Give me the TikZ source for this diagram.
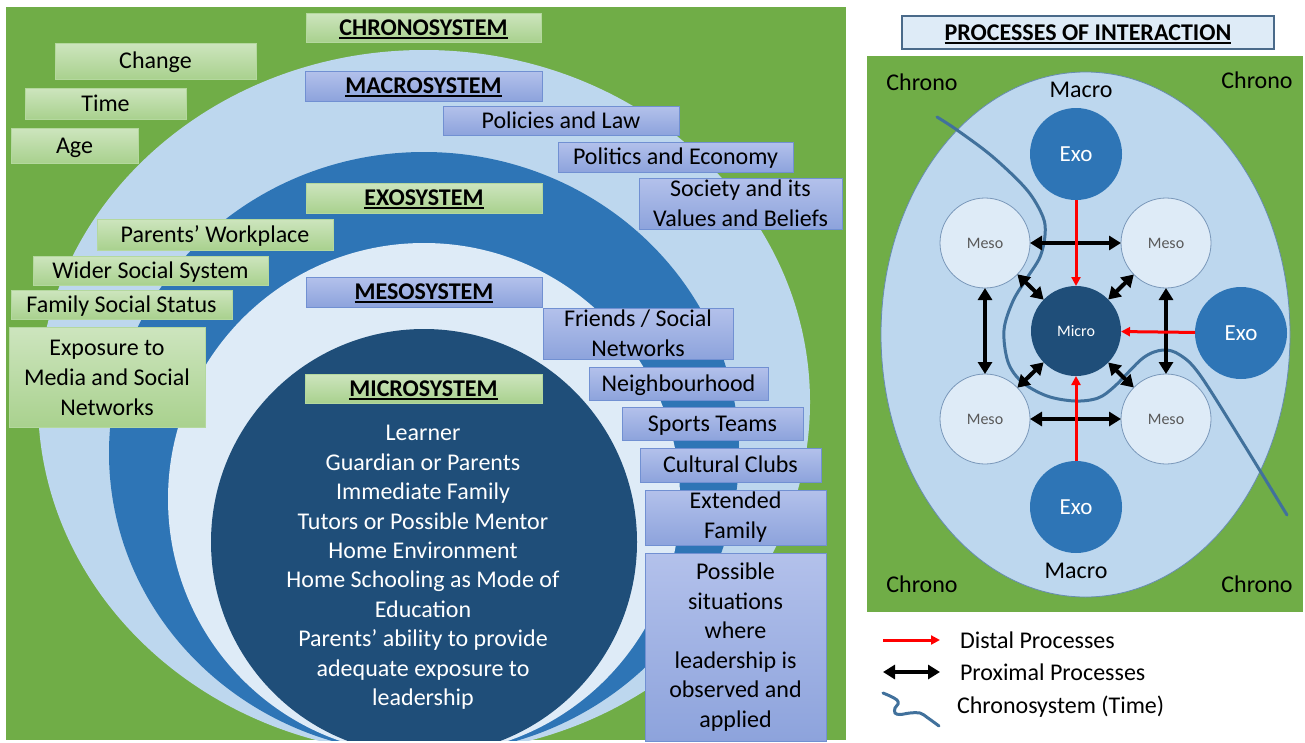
\documentclass[tikz,border=0pt]{standalone}
\usepackage{fontspec}
\setmainfont{Carlito}
\usetikzlibrary{arrows.meta,shapes.geometric}

\definecolor{bggreen}{HTML}{70AD47}
\definecolor{macrob}{HTML}{BDD7EE}
\definecolor{exob}{HTML}{2E75B6}
\definecolor{mesob}{HTML}{DEEBF7}
\definecolor{microb}{HTML}{1F4E79}
\definecolor{gtop}{HTML}{CDE5BE}
\definecolor{gbot}{HTML}{A9D18E}
\definecolor{gline}{HTML}{B4D89E}
\definecolor{btop}{HTML}{B3C1EB}
\definecolor{bbot}{HTML}{8DA3DC}
\definecolor{bline}{HTML}{7190D2}
\definecolor{chronoc}{HTML}{41719C}
\definecolor{mesotxt}{HTML}{595959}
\definecolor{mesoline}{HTML}{7A98BA}
\definecolor{titleline}{HTML}{4A6A8A}
\definecolor{arrred}{HTML}{FF0000}

\newcommand\hdul[1]{\setbox0\hbox{\bfseries #1}\rlap{\rule[-3.5pt]{\wd0}{1.8pt}}\box0}

\tikzset{
  lab/.style={font=\fontsize{24}{30}\selectfont, align=center, inner sep=0pt, outer sep=0pt},
  one/.style={text height=17pt, text depth=1.5pt},
  gbox/.style={lab, draw=gline, line width=1pt, top color=gtop, bottom color=gbot},
  bbox/.style={lab, draw=bline, line width=1pt, top color=btop, bottom color=bbot},
  exoc/.style={circle, fill=exob, minimum size=92pt, inner sep=0pt, outer sep=0pt, text=white, font=\fontsize{23}{26}\selectfont},
  microc/.style={circle, fill=microb, minimum size=90pt, inner sep=0pt, outer sep=0pt, text=white, font=\fontsize{16}{18}\selectfont},
  mesoc/.style={circle, fill=mesob, draw=mesoline, line width=0.8pt, minimum size=90pt, inner sep=0pt, outer sep=0pt, text=mesotxt, font=\fontsize{16}{18}\selectfont},
  redarr/.style={draw=arrred, line width=3pt, -{Triangle[length=9pt,width=9pt]}},
  blkarr/.style={draw=black, line width=4pt, {Triangle[length=12pt,width=14pt]}-{Triangle[length=12pt,width=14pt]}},
  chronoline/.style={draw=chronoc, line width=3pt, line cap=round},
  plain/.style={font=\fontsize{24}{30}\selectfont, inner sep=0pt, outer sep=0pt},
}

\begin{document}
\begin{tikzpicture}[x=1pt,y=-1pt]
\useasboundingbox (0,0) rectangle (1305,742);
\fill[white] (0,0) rectangle (1305,742);

% ---------------- left panel ----------------
\fill[bggreen] (6,7) rectangle (846,740);
\begin{scope}
  \clip (6,7) rectangle (846,740);
  \fill[macrob] (424,402) ellipse [x radius=386pt, y radius=352pt];
  \fill[exob]   (424,453) ellipse [x radius=315pt, y radius=301pt];
  \fill[mesob]  (424,499) circle [radius=256pt];
  \fill[microb] (424,542) circle [radius=213pt];
\end{scope}

% green boxes
\node[gbox, one, minimum width=235pt, minimum height=29pt] (chrono) at (423.5,27.5) {\hdul{CHRONOSYSTEM}};
\node[gbox, one, minimum width=201pt, minimum height=36pt] (change) at (155.5,61) {Change};
\node[gbox, one, minimum width=161pt, minimum height=31pt] (time) at (105.5,103.5) {Time};
\node[gbox, one, minimum width=127pt, minimum height=35pt] (age) at (74.5,145.5) {Age};
\node[gbox, one, minimum width=236pt, minimum height=30pt] (exosys) at (424,198) {\hdul{EXOSYSTEM}};
\node[gbox, one, minimum width=236pt, minimum height=31pt] (work) at (215,234.5) {Parents’ Workplace};
\node[gbox, one, minimum width=235pt, minimum height=29pt] (wider) at (150.5,270.5) {Wider Social System};
\node[gbox, one, minimum width=221pt, minimum height=29pt] (status) at (121.5,304.5) {Family Social Status};
\node[gbox, minimum width=196pt, minimum height=100pt] (media) at (107,377.5) {Exposure to\\Media and Social\\Networks};
\node[gbox, one, minimum width=237pt, minimum height=29pt] (microsys) at (423.5,388.5) {\hdul{MICROSYSTEM}};

% blue boxes
\node[bbox, one, minimum width=237pt, minimum height=30pt] (macrosys) at (423.5,86) {\hdul{MACROSYSTEM}};
\node[bbox, one, minimum width=236pt, minimum height=29pt] (policies) at (561,120.5) {Policies and Law};
\node[bbox, one, minimum width=235pt, minimum height=30pt] (politics) at (675.5,157) {Politics and Economy};
\node[bbox, minimum width=203pt, minimum height=51pt] (society) at (740.5,203.5) {Society and its\\Values and Beliefs};
\node[bbox, one, minimum width=236pt, minimum height=30pt] (mesosys) at (424,292) {\hdul{MESOSYSTEM}};
\node[bbox, minimum width=190pt, minimum height=51pt] (friends) at (638,333.5) {Friends / Social\\Networks};
\node[bbox, one, minimum width=179pt, minimum height=33pt] (neigh) at (678.5,383.5) {Neighbourhood};
\node[bbox, one, minimum width=181pt, minimum height=33pt] (sports) at (712.5,423.5) {Sports Teams};
\node[bbox, one, minimum width=181pt, minimum height=34pt] (clubs) at (730.5,465) {Cultural Clubs};
\node[bbox, minimum width=181pt, minimum height=55pt] (extended) at (735.5,517.5) {Extended\\Family};
\node[bbox, minimum width=181pt, minimum height=188pt, font=\fontsize{24}{29.6}\selectfont] (possible) at (735.5,647) {Possible\\situations\\where\\leadership is\\observed and\\applied};

% microsystem text
\node[lab, text=white, font=\fontsize{24}{29.4}\selectfont] (microtext) at (423,567.5) {Learner\\Guardian or Parents\\Immediate Family\\Tutors or Possible Mentor\\Home Environment\\Home Schooling as Mode of\\Education\\Parents’ ability to provide\\adequate exposure to\\leadership};

% ---------------- right panel ----------------
\node[lab, one, draw=titleline, line width=1.2pt, fill=mesob, minimum width=372pt, minimum height=33pt] (title) at (1088,32.5) {\hdul{PROCESSES OF INTERACTION}};
\fill[bggreen] (867,56) rectangle (1303,612);
\filldraw[fill=macrob, draw=chronoc!80, line width=0.8pt] (1085.5,334.5) ellipse [x radius=204.5pt, y radius=262.5pt];

\node[plain] (chTL) at (922,82) {Chrono};
\node[plain] (chTR) at (1257,80) {Chrono};
\node[plain] (chBL) at (922,584) {Chrono};
\node[plain] (chBR) at (1257,584) {Chrono};
\node[plain] (macT) at (1081,90) {Macro};
\node[plain] (macB) at (1076,571) {Macro};

% time curve
\draw[chronoline] plot[smooth, tension=0.55] coordinates {(937,117) (957,130) (993,157) (1027,190) (1043,217) (1045,235) (1040,257) (1027,278) (1013,301) (1004,330) (1008,362) (1022,382) (1047,396) (1075,401) (1098,398) (1115,386) (1143,358) (1163,350) (1180,355) (1200,375) (1243,443) (1287,515)};

\node[exoc] (exoT) at (1076,154) {Exo};
\node[exoc] (exoR) at (1241,333) {Exo};
\node[exoc] (exoB) at (1076,507) {Exo};
\node[microc] (micro) at (1076,331) {Micro};
\node[mesoc] (mTL) at (985,243) {Meso};
\node[mesoc] (mTR) at (1166,243) {Meso};
\node[mesoc] (mBL) at (985,419) {Meso};
\node[mesoc] (mBR) at (1166,419) {Meso};

\draw[blkarr] (mTL) -- (mTR);
\draw[blkarr] (mBL) -- (mBR);
\draw[blkarr] (mTL) -- (mBL);
\draw[blkarr] (mTR) -- (mBR);
\draw[blkarr] (mTL) -- (micro);
\draw[blkarr] (mTR) -- (micro);
\draw[blkarr] (mBL) -- (micro);
\draw[blkarr] (mBR) -- (micro);
\draw[redarr] (exoT) -- (micro);
\draw[redarr] (exoR) -- (micro);
\draw[redarr] (exoB) -- (micro);

% legend
\coordinate (lrA) at (883,640);
\coordinate (lrB) at (940,640);
\coordinate (lbA) at (883,672);
\coordinate (lbB) at (940,672);
\draw[redarr] (lrA) -- (lrB);
\draw[blkarr] (lbA) -- (lbB);
\draw[chronoline] plot[smooth, tension=0.6] coordinates {(883,693) (890,696) (897,700) (898,704) (895,708) (895,713) (900,714.5) (910,713) (920,713) (928,718) (939,726)};
\node[plain, anchor=west] (lgD) at (960,640) {Distal Processes};
\node[plain, anchor=west] (lgP) at (960,672) {Proximal Processes};
\node[plain, anchor=west] (lgC) at (957,707) {Chronosystem (Time)};
\end{tikzpicture}
\end{document}
